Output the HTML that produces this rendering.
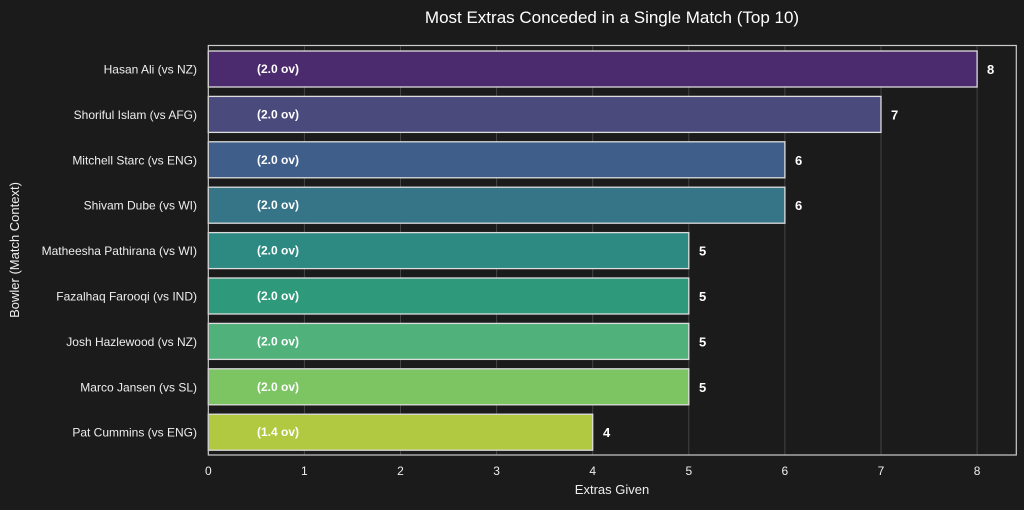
<!DOCTYPE html>
<html><head><meta charset="utf-8"><style>
body{margin:0;background:#1b1b1b;}
text{font-family:"Liberation Sans",sans-serif;}
</style></head><body>
<svg width="1024" height="505" xmlns="http://www.w3.org/2000/svg">
<rect width="1024" height="505" fill="#1b1b1b"/>
<text x="612" y="23" fill="#fff" font-size="17" text-anchor="middle">Most Extras Conceded in a Single Match (Top 10)</text>
<g stroke="#444" stroke-width="1">
<line x1="304.4" y1="46" x2="304.4" y2="455"/><line x1="400.5" y1="46" x2="400.5" y2="455"/>
<line x1="496.6" y1="46" x2="496.6" y2="455"/><line x1="592.7" y1="46" x2="592.7" y2="455"/>
<line x1="688.8" y1="46" x2="688.8" y2="455"/><line x1="784.9" y1="46" x2="784.9" y2="455"/>
<line x1="881" y1="46" x2="881" y2="455"/><line x1="977.1" y1="46" x2="977.1" y2="455"/>
</g>
<g stroke="#ddd" stroke-width="1.3">
<rect x="208.3" y="51" width="768.8" height="36" fill="#4b2b6e"/>
<rect x="208.3" y="96.4" width="672.7" height="36" fill="#4a4a7d"/>
<rect x="208.3" y="141.8" width="576.6" height="36" fill="#3f5f8a"/>
<rect x="208.3" y="187.2" width="576.6" height="36" fill="#367487"/>
<rect x="208.3" y="232.6" width="480.5" height="36" fill="#2d8a82"/>
<rect x="208.3" y="278" width="480.5" height="36" fill="#2f9a7b"/>
<rect x="208.3" y="323.4" width="480.5" height="36" fill="#50b27a"/>
<rect x="208.3" y="368.8" width="480.5" height="36" fill="#7dc463"/>
<rect x="208.3" y="414.2" width="384.4" height="36" fill="#b0c940"/>
</g>
<g fill="#fff" font-size="12" font-weight="bold" text-anchor="middle">
<text x="278" y="73">(2.0 ov)</text><text x="278" y="118.4">(2.0 ov)</text><text x="278" y="163.8">(2.0 ov)</text>
<text x="278" y="209.2">(2.0 ov)</text><text x="278" y="254.6">(2.0 ov)</text><text x="278" y="300">(2.0 ov)</text>
<text x="278" y="345.4">(2.0 ov)</text><text x="278" y="390.8">(2.0 ov)</text><text x="278" y="436.2">(1.4 ov)</text>
</g>
<g fill="#fff" font-size="13" font-weight="bold">
<text x="987" y="74">8</text><text x="891" y="119.4">7</text><text x="795" y="164.8">6</text>
<text x="795" y="210.2">6</text><text x="699" y="255.6">5</text><text x="699" y="301">5</text>
<text x="699" y="346.4">5</text><text x="699" y="391.8">5</text><text x="603" y="437.2">4</text>
</g>
<g fill="#eee" font-size="12" text-anchor="end">
<text x="197" y="73.5">Hasan Ali (vs NZ)</text><text x="197" y="118.9">Shoriful Islam (vs AFG)</text>
<text x="197" y="164.3">Mitchell Starc (vs ENG)</text><text x="197" y="209.7">Shivam Dube (vs WI)</text>
<text x="197" y="255.1">Matheesha Pathirana (vs WI)</text><text x="197" y="300.5">Fazalhaq Farooqi (vs IND)</text>
<text x="197" y="345.9">Josh Hazlewood (vs NZ)</text><text x="197" y="391.3">Marco Jansen (vs SL)</text>
<text x="197" y="436.7">Pat Cummins (vs ENG)</text>
</g>
<g fill="#eee" font-size="12" text-anchor="middle">
<text x="208.3" y="475">0</text><text x="304.4" y="475">1</text><text x="400.5" y="475">2</text>
<text x="496.6" y="475">3</text><text x="592.7" y="475">4</text><text x="688.8" y="475">5</text>
<text x="784.9" y="475">6</text><text x="881" y="475">7</text><text x="977.1" y="475">8</text>
</g>
<text x="612" y="494" fill="#eee" font-size="13" text-anchor="middle">Extras Given</text>
<text transform="translate(19,250) rotate(-90)" fill="#eee" font-size="13" text-anchor="middle">Bowler (Match Context)</text>
<rect x="208.3" y="45.5" width="808" height="409.5" fill="none" stroke="#ccc" stroke-width="1.2"/>
</svg>
</body></html>
